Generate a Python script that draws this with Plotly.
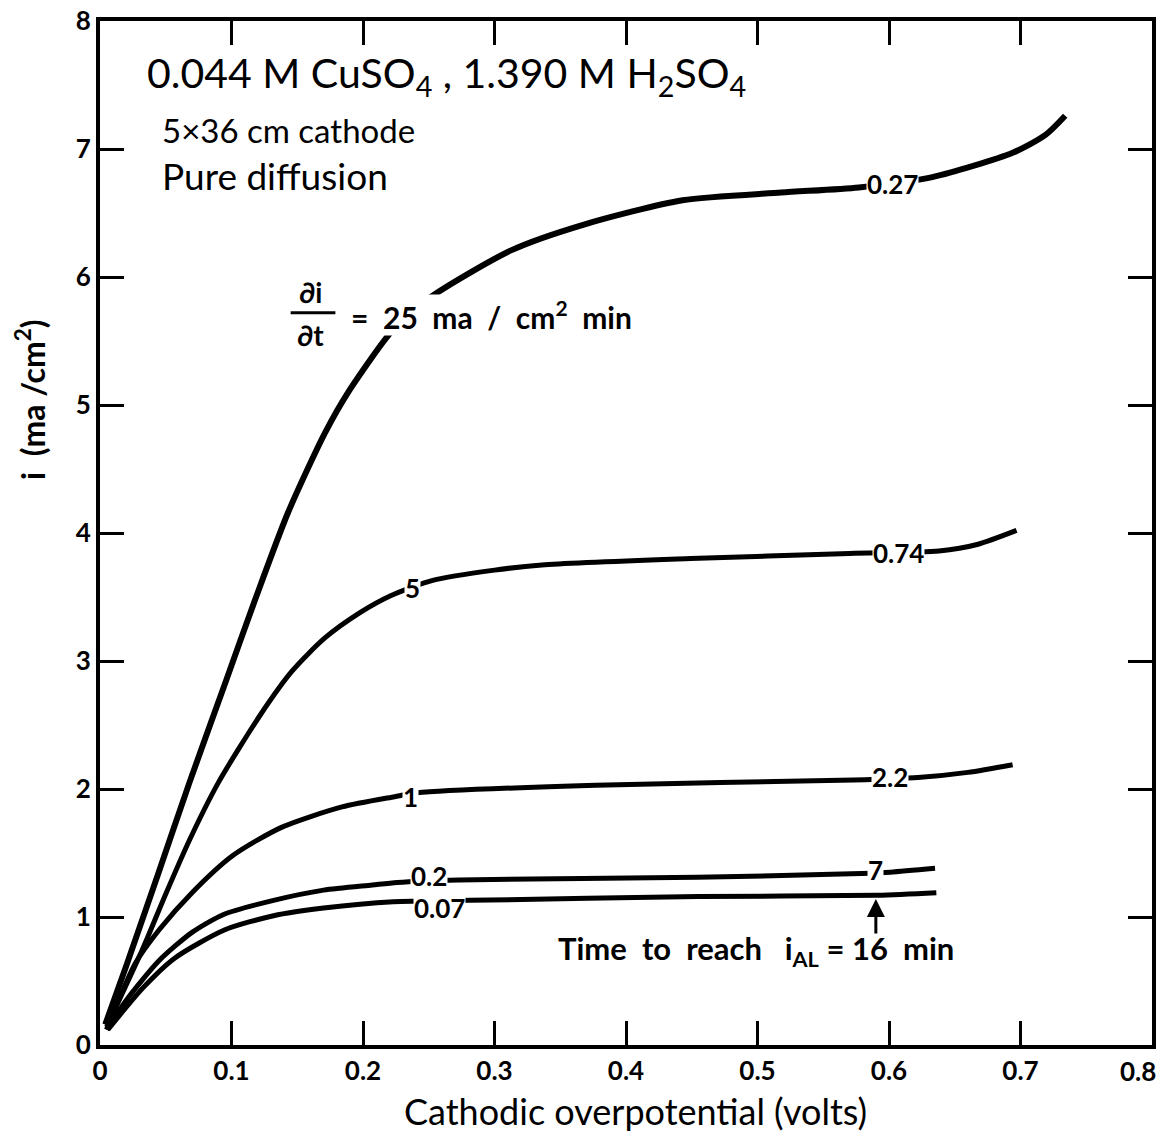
import plotly.graph_objects as go

# ---- data ----
x_tick_vals = [0, 0.1, 0.2, 0.3, 0.4, 0.5, 0.6, 0.7, 0.8]
x_tick_text = ["0", "0.1", "0.2", "0.3", "0.4", "0.5", "0.6", "0.7", "0.8"]
y_tick_vals = [0, 1, 2, 3, 4, 5, 6, 7, 8]
y_tick_text = ["0", "1", "2", "3", "4", "5", "6", "7", "8"]

# di/dt = 25 ma/cm2 min  (time 0.27 min)
c25_x = [0.004, 0.020, 0.044, 0.068, 0.096, 0.118, 0.143, 0.171, 0.190, 0.223, 0.251, 0.313,
         0.368, 0.443, 0.518, 0.577, 0.633, 0.694, 0.719, 0.734]
c25_y = [0.16, 0.62, 1.33, 2.05, 2.85, 3.48, 4.16, 4.78, 5.12, 5.59, 5.84, 6.21,
         6.41, 6.60, 6.66, 6.70, 6.78, 6.97, 7.11, 7.26]
# di/dt = 5  (0.74 min)
c5_x = [0.005, 0.032, 0.050, 0.068, 0.090, 0.122, 0.146, 0.171, 0.198, 0.221, 0.253, 0.300,
        0.336, 0.449, 0.570, 0.638, 0.667, 0.697]
c5_y = [0.14, 0.74, 1.18, 1.60, 2.05, 2.58, 2.92, 3.18, 3.38, 3.51, 3.63, 3.71,
        3.75, 3.80, 3.84, 3.86, 3.91, 4.02]
# di/dt = 1  (2.2 min)
c1_x = [0.005, 0.027, 0.045, 0.070, 0.101, 0.138, 0.184, 0.224, 0.241, 0.377, 0.573, 0.622, 0.660, 0.694]
c1_y = [0.12, 0.64, 0.90, 1.19, 1.48, 1.70, 1.86, 1.94, 1.97, 2.03, 2.07, 2.09, 2.13, 2.19]
# di/dt = 0.2  (7 min)
c02_x = [0.005, 0.020, 0.045, 0.070, 0.094, 0.132, 0.170, 0.207, 0.226, 0.273, 0.454, 0.579, 0.601, 0.635]
c02_y = [0.12, 0.35, 0.66, 0.88, 1.02, 1.13, 1.21, 1.25, 1.27, 1.29, 1.31, 1.34, 1.35, 1.38]
# di/dt = 0.07  (16 min)
c007_x = [0.006, 0.033, 0.057, 0.095, 0.132, 0.170, 0.223, 0.281, 0.455, 0.591, 0.636]
c007_y = [0.12, 0.45, 0.68, 0.90, 1.01, 1.07, 1.12, 1.13, 1.16, 1.17, 1.19]

# curve labels: (text, x, y)
rate_labels = [("5", 0.238, 3.57), ("1", 0.236, 1.94), ("0.07", 0.258, 1.07), ("0.2", 0.250, 1.32)]
time_labels = [("0.27", 0.603, 6.73), ("0.74", 0.607, 3.84), ("2.2", 0.601, 2.09), ("7", 0.590, 1.37)]

FONT = "Lato"
TICKFONT = dict(family=FONT, size=26, color="black", weight="bold")
fig = go.Figure()

curves = [(c25_x, c25_y, 6), (c5_x, c5_y, 5), (c1_x, c1_y, 5), (c02_x, c02_y, 5), (c007_x, c007_y, 5)]
for cx, cy, w in curves:
    fig.add_trace(go.Scatter(x=cx, y=cy, mode="lines",
                             line=dict(color="black", width=w, shape="spline", smoothing=0.7),
                             showlegend=False, hoverinfo="skip"))

ann = []
for t, x, y in rate_labels + time_labels:
    ann.append(dict(x=x, y=y, xref="x", yref="y", text=t, showarrow=False,
                    font=dict(family=FONT, size=26, color="black", weight="bold"),
                    bgcolor="white", borderpad=0))

# header texts (paper coords)
ann.append(dict(x=0.043, y=0.947, xref="paper", yref="paper", xanchor="left", yanchor="middle",
                text="0.044 M CuSO<sub>4</sub> , 1.390 M H<sub>2</sub>SO<sub>4</sub>", showarrow=False,
                font=dict(family=FONT, size=41, color="black")))
ann.append(dict(x=0.057, y=0.894, xref="paper", yref="paper", xanchor="left", yanchor="middle",
                text="5×36 cm cathode", showarrow=False,
                font=dict(family=FONT, size=33, color="black")))
ann.append(dict(x=0.057, y=0.849, xref="paper", yref="paper", xanchor="left", yanchor="middle",
                text="Pure diffusion", showarrow=False,
                font=dict(family=FONT, size=37, color="black")))

# di/dt fraction
ann.append(dict(x=0.160, y=5.88, xref="x", yref="y", text="∂i", showarrow=False,
                font=dict(family=FONT, size=28, color="black", weight="bold")))
ann.append(dict(x=0.160, y=5.55, xref="x", yref="y", text="∂t", showarrow=False,
                font=dict(family=FONT, size=28, color="black", weight="bold")))
ann.append(dict(x=0.190, y=5.70, xref="x", yref="y", xanchor="left", yanchor="middle",
                text="=  25  ma  /  cm<sup>2</sup>  min", showarrow=False, bgcolor="white", borderpad=0,
                font=dict(family=FONT, size=30, color="black", weight="bold")))

# time to reach annotation with arrow
ann.append(dict(x=0.590, y=1.14, xref="x", yref="y", ax=0.590, ay=0.86, axref="x", ayref="y",
                text="", showarrow=True, arrowhead=2, arrowsize=1.2, arrowwidth=3, arrowcolor="black"))
ann.append(dict(x=0.499, y=0.74, xref="x", yref="y",
                text="Time  to  reach   i<sub>AL</sub> = 16  min", showarrow=False,
                font=dict(family=FONT, size=31, color="black", weight="bold")))

# last x tick label drawn right-aligned so it is not clipped at the page edge
ann.append(dict(x=x_tick_vals[-1], y=-0.0254, xref="x", yref="paper", xanchor="right", yanchor="middle",
                xshift=6, text=x_tick_text[-1], showarrow=False, font=TICKFONT))

# axis titles
ann.append(dict(x=0.509, y=-0.0640, xref="paper", yref="paper", xanchor="center", yanchor="middle",
                text="Cathodic overpotential (volts)", showarrow=False,
                font=dict(family=FONT, size=36, color="black")))
ann.append(dict(x=-0.0665, y=0.630, xref="paper", yref="paper", xanchor="center", yanchor="middle",
                textangle=-90, text="i  (ma /cm<sup>2</sup>)", showarrow=False,
                font=dict(family=FONT, size=32, color="black", weight="bold")))

shapes = [dict(type="line", xref="x", yref="y", x0=0.145, x1=0.179, y0=5.72, y1=5.72,
               line=dict(color="black", width=3))]

axis_common = dict(showgrid=False, zeroline=False, showline=True, linewidth=4, linecolor="black",
                   mirror="ticks", ticks="inside", ticklen=24, tickwidth=3, tickcolor="black",
                   automargin=False, tickfont=TICKFONT)

x_axis_text = x_tick_text[:-1] + [""]
fig.update_xaxes(range=[0, 0.8], tickvals=x_tick_vals, ticktext=x_axis_text,
                 ticklabeloverflow="allow", **axis_common)
fig.update_yaxes(range=[0, 8], tickvals=y_tick_vals, ticktext=y_tick_text,
                 ticklabeloverflow="allow", **axis_common)

# page has an 8px body margin: figure sized/offset so the plot lands where the reference's does
# and the page does not need scrollbars
fig.update_layout(width=1161, height=1124,
                  margin=dict(l=92, r=17, t=13, b=87, autoexpand=False),
                  plot_bgcolor="white", paper_bgcolor="white",
                  annotations=ann, shapes=shapes, showlegend=False)

fig.write_html("out.html")
